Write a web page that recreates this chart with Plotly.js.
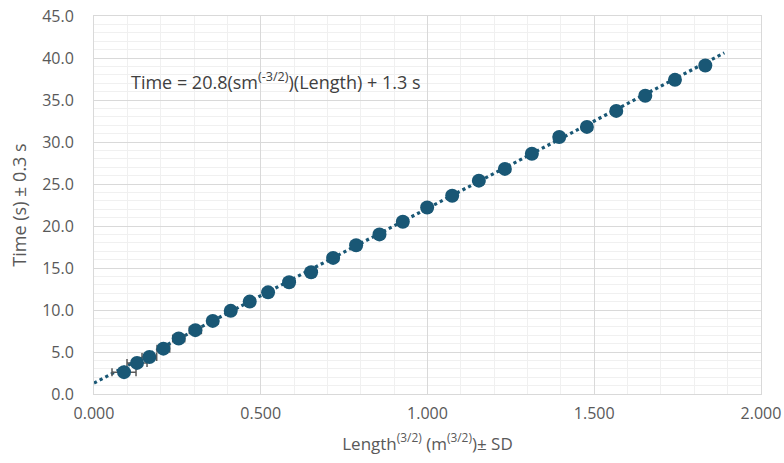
<!DOCTYPE html>
<html>
<head>
<meta charset="utf-8">
<script src="https://cdn.plot.ly/plotly-3.0.1.min.js"></script>
<style>html,body{margin:0;padding:0;background:#fff;}#chart{width:784px;height:463px;}</style>
</head>
<body>
<div id="chart"></div>
<script>
// Length^(3/2) values (m^(3/2))
const lengthPow = [0.090, 0.129, 0.166, 0.208, 0.254, 0.304, 0.356, 0.410, 0.467, 0.522,
  0.585, 0.651, 0.717, 0.786, 0.856, 0.926, 0.999, 1.074, 1.154, 1.232,
  1.313, 1.395, 1.478, 1.566, 1.653, 1.742, 1.833];
// Time values (s)
const timeVals = [2.6, 3.7, 4.4, 5.4, 6.6, 7.6, 8.7, 9.9, 11.0, 12.1,
  13.3, 14.5, 16.2, 17.7, 19.0, 20.5, 22.2, 23.6, 25.4, 26.8,
  28.6, 30.6, 31.8, 33.7, 35.5, 37.4, 39.1];
// Horizontal SD of Length^(3/2)
const lengthSD = [0.036, 0.030, 0.022, 0.019, 0.018, 0.018, 0.015, 0.015, 0.015, 0.015,
  0.015, 0.015, 0.015, 0.015, 0.015, 0.015, 0.015, 0.015, 0.015, 0.015,
  0.015, 0.015, 0.015, 0.015, 0.015, 0.015, 0.015];
// Linear trend: Time = slope * Length^(3/2) + intercept
const trendSlope = 20.8;
const trendIntercept = 1.3;
const trendXRange = [0, 1.89];
const xTickVals = [0, 0.5, 1.0, 1.5, 2.0];
const yTickVals = [0, 5, 10, 15, 20, 25, 30, 35, 40, 45];

const col = '#195775';
const trendY = trendXRange.map(x => trendSlope * x + trendIntercept);

const traces = [
  {
    x: trendXRange, y: trendY, mode: 'lines', type: 'scatter',
    line: {color: col, width: 3.2, dash: 'dot'}, hoverinfo: 'skip', showlegend: false
  },
  {
    x: lengthPow, y: timeVals, mode: 'markers', type: 'scatter',
    marker: {color: col, size: 14},
    error_x: {type: 'data', array: lengthSD, visible: true, color: '#595959', thickness: 1.5, width: 4},
    error_y: {type: 'constant', value: 0.3, visible: true, color: '#595959', thickness: 1.5, width: 4},
    showlegend: false
  }
];

const fam = 'Open Sans, Liberation Sans, sans-serif';
const tickFont = {family: fam, size: 16, color: '#595959'};
const layout = {
  width: 784, height: 463,
  margin: {l: 94, r: 23, t: 16, b: 69},
  paper_bgcolor: '#ffffff', plot_bgcolor: '#ffffff',
  showlegend: false,
  xaxis: {
    range: [0, 2], tickvals: xTickVals, tickformat: '.3f',
    tickfont: tickFont, ticks: '', ticklabelstandoff: 5,
    showgrid: true, gridcolor: '#d9d9d9', gridwidth: 1,
    minor: {dtick: 0.1, showgrid: true, gridcolor: '#f0f0f0', gridwidth: 1, ticks: ''},
    showline: true, linecolor: '#d9d9d9', linewidth: 1, mirror: true, zeroline: false,
    title: {text: 'Length<sup>(3/2)</sup> (m<sup>(3/2)</sup>)± SD',
      font: {family: fam, size: 17, color: '#595959'}, standoff: 14}
  },
  yaxis: {
    range: [0, 45], tickvals: yTickVals, tickformat: '.1f',
    tickfont: tickFont, ticks: '', ticklabelstandoff: 16,
    showgrid: true, gridcolor: '#d9d9d9', gridwidth: 1,
    minor: {dtick: 1, showgrid: true, gridcolor: '#f0f0f0', gridwidth: 1, ticks: ''},
    showline: true, linecolor: '#d9d9d9', linewidth: 1, mirror: true, zeroline: false,
    title: {text: 'Time (s) ± 0.3 s',
      font: {family: fam, size: 18, color: '#595959'}, standoff: 10}
  },
  annotations: [{
    xref: 'paper', yref: 'paper', x: 0.052, y: 0.827, xanchor: 'left', yanchor: 'middle',
    text: 'Time = ' + trendSlope.toFixed(1) + '(sm<sup>(-3/2)</sup>)(Length) + ' + trendIntercept.toFixed(1) + ' s',
    showarrow: false, font: {family: fam, size: 18, color: '#404040'}
  }]
};

Plotly.newPlot('chart', traces, layout, {displayModeBar: false, staticPlot: true});
</script>
</body>
</html>
